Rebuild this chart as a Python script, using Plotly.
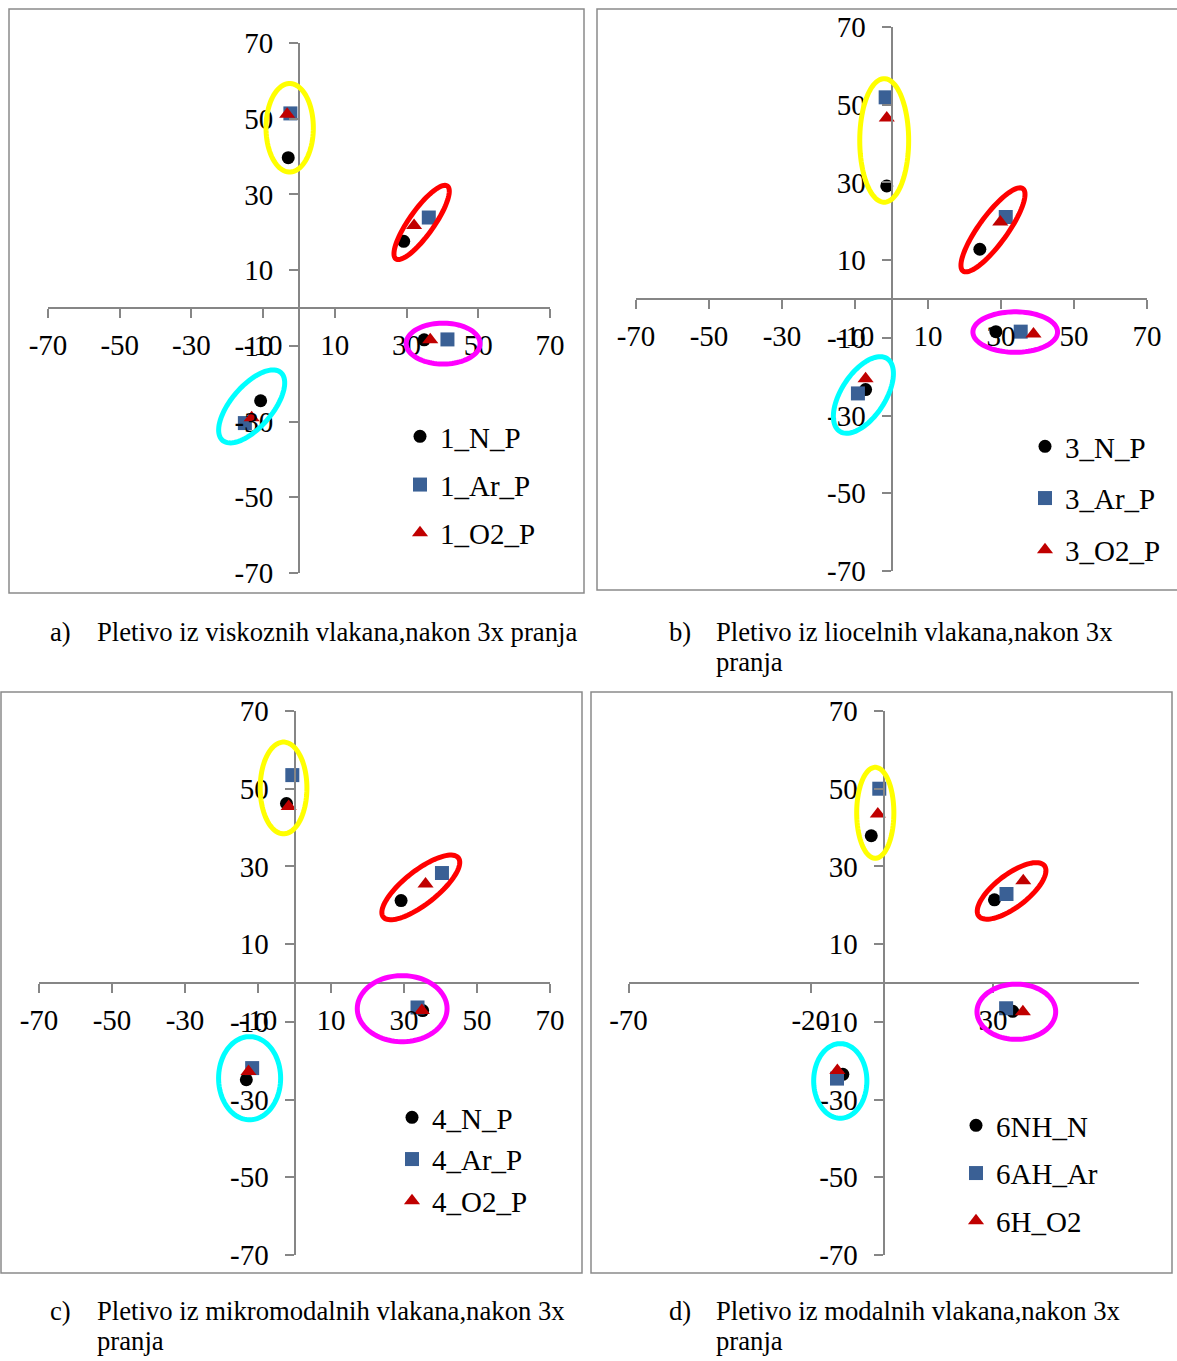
import numpy as np
import plotly.graph_objects as go

W, H = 1177, 1361

# ---- data ----
a_N_x = [-3.0, 29.2, 34.9, -10.7]
a_N_y = [39.7, 17.6, -8.4, -24.5]
a_Ar_x = [-2.4, 36.2, 41.4, -15.1]
a_Ar_y = [51.4, 23.9, -8.3, -30.4]
a_O2_x = [-3.3, 32.1, 36.6, -13.2]
a_O2_y = [51.2, 21.8, -8.4, -29.0]

b_N_x = [-1.3, 24.2, 28.6, -7.1]
b_N_y = [29.1, 12.8, -8.4, -23.3]
b_Ar_x = [-1.6, 31.3, 35.4, -9.2]
b_Ar_y = [51.9, 21.1, -8.4, -24.3]
b_O2_x = [-1.3, 29.8, 38.9, -7.1]
b_O2_y = [46.6, 19.8, -9.0, -20.5]

c_N_x = [-2.2, 29.2, 35.1, -13.2]
c_N_y = [46.2, 21.2, -7.1, -24.9]
c_Ar_x = [-0.6, 40.4, 33.7, -11.6]
c_Ar_y = [53.5, 28.3, -6.3, -21.9]
c_O2_x = [-1.6, 35.9, 34.9, -12.6]
c_O2_y = [45.4, 25.5, -7.1, -22.8]

d_N_x = [-3.4, 30.4, 35.4, -11.2]
d_N_y = [37.9, 21.4, -7.3, -23.5]
d_Ar_x = [-1.2, 33.7, 33.6, -12.8]
d_Ar_y = [50.0, 22.9, -6.5, -24.6]
d_O2_x = [-1.6, 38.3, 38.2, -12.7]
d_O2_y = [43.5, 26.3, -7.4, -22.5]

names_a = ["1_N_P", "1_Ar_P", "1_O2_P"]
names_b = ["3_N_P", "3_Ar_P", "3_O2_P"]
names_c = ["4_N_P", "4_Ar_P", "4_O2_P"]
names_d = ["6NH_N", "6AH_Ar", "6H_O2"]

ticks_20 = [-70, -50, -30, -10, 10, 30, 50, 70]
ticks_50 = [-70, -20, 30]

captions = [
    ("a)", ["Pletivo iz viskoznih vlakana,nakon 3x pranja"]),
    ("b)", ["Pletivo iz liocelnih vlakana,nakon 3x", "pranja"]),
    ("c)", ["Pletivo iz mikromodalnih vlakana,nakon 3x", "pranja"]),
    ("d)", ["Pletivo iz modalnih vlakana,nakon 3x", "pranja"]),
]


def fx(p):
    return p / W


def fy(p):
    return 1 - p / H


# pixel placement of each panel: x(-70), x(70), y(70), y(-70)
panels = [
    dict(xl=48, xr=550, yt=43, yb=573, xticks=ticks_20, frame=(9, 9, 584, 593),
         leg=(400, 411), gap=7.5, names=names_a,
         series=[(a_N_x, a_N_y), (a_Ar_x, a_Ar_y), (a_O2_x, a_O2_y)],
         cap=(48, 95, 632)),
    dict(xl=636, xr=1147, yt=27, yb=571, xticks=ticks_20, frame=(597, 9, 1190, 590),
         leg=(1025, 421), gap=11, names=names_b,
         series=[(b_N_x, b_N_y), (b_Ar_x, b_Ar_y), (b_O2_x, b_O2_y)],
         cap=(667, 714, 632)),
    dict(xl=39, xr=550, yt=711, yb=1255, xticks=ticks_20, frame=(1, 692, 582, 1273),
         leg=(392, 1092), gap=1, names=names_c,
         series=[(c_N_x, c_N_y), (c_Ar_x, c_Ar_y), (c_O2_x, c_O2_y)],
         cap=(48, 95, 1311)),
    dict(xl=628.5, xr=1138.8, yt=711, yb=1255, xticks=ticks_50, frame=(591, 692, 1172, 1273),
         leg=(956, 1100), gap=7, names=names_d,
         series=[(d_N_x, d_N_y), (d_Ar_x, d_Ar_y), (d_O2_x, d_O2_y)],
         cap=(667, 714, 1311)),
]

# ellipses: colour, cx, cy, semi-a, semi-b, angle (deg)
ellipses = [
    [("#FFFF00", -2.6, 47.6, 6.6, 11.7, 0), ("#FF0000", 34.2, 22.6, 12.0, 3.4, 53),
     ("#FF00FF", 40.2, -9.4, 10.3, 5.4, 0), ("#00FFFF", -13.2, -26.0, 12.1, 5.6, 47)],
    [("#FFFF00", -2.0, 40.8, 6.7, 15.9, 0), ("#FF0000", 27.8, 17.8, 13.4, 3.8, 52),
     ("#FF00FF", 33.9, -8.5, 11.6, 5.2, 0), ("#00FFFF", -7.7, -24.7, 11.4, 5.9, 54)],
    [("#FFFF00", -3.0, 50.2, 6.4, 11.8, 0), ("#FF0000", 34.6, 24.6, 12.8, 4.4, 36),
     ("#FF00FF", 29.5, -6.6, 12.3, 8.5, 0), ("#00FFFF", -12.3, -24.5, 8.5, 10.7, 0)],
    [("#FFFF00", -2.3, 43.8, 5.1, 11.7, 0), ("#FF0000", 35.1, 23.7, 11.1, 4.3, 35),
     ("#FF00FF", 36.4, -7.4, 10.8, 7.1, 0), ("#00FFFF", -11.9, -25.2, 7.3, 9.6, 0)],
]


def ellipse_path(cx, cy, a, b, ang, n=90):
    t = np.linspace(0, 2 * np.pi, n, endpoint=False)
    th = np.radians(ang)
    xs = cx + a * np.cos(t) * np.cos(th) - b * np.sin(t) * np.sin(th)
    ys = cy + a * np.cos(t) * np.sin(th) + b * np.sin(t) * np.cos(th)
    return "M " + " L ".join(f"{x:.3f},{y:.3f}" for x, y in zip(xs, ys)) + " Z"


SERIF = "Liberation Serif"
AXIS_GRAY = "#868686"
styles = [
    dict(symbol="circle", size=13, color="#000000"),
    dict(symbol="square", size=14, color="#3A6095"),
    dict(symbol="triangle-up", size=14, color="#C00000"),
]

fig = go.Figure()
shapes = []
annotations = []
layout = {}

for i, p in enumerate(panels):
    k = "" if i == 0 else str(i + 1)
    xdom = [fx(p["xl"]), fx(p["xr"])]
    ydom = [fy(p["yb"]), fy(p["yt"])]
    legname = "legend" + k

    for j, (xs, ys) in enumerate(p["series"]):
        st = styles[j]
        fig.add_trace(go.Scatter(
            x=xs, y=ys, mode="markers", name=p["names"][j],
            xaxis="x" + k, yaxis="y" + k,
            marker=dict(symbol=st["symbol"], size=st["size"], color=st["color"]),
            legend=legname, legendgroup=f"g{i}{j}",
        ))

    common = dict(
        range=[-70, 70], showgrid=False, zeroline=False, showline=True,
        linecolor=AXIS_GRAY, linewidth=2, ticks="outside", ticklen=9,
        tickwidth=2, tickcolor=AXIS_GRAY, tickmode="array",
        tickfont=dict(family=SERIF, size=29, color="#000000"),
        fixedrange=True, automargin=False,
    )
    # hyphen-minus labels like the original (plotly would use U+2212)
    layout["xaxis" + k] = dict(common, domain=xdom,
                               tickvals=p["xticks"], ticktext=[str(v) for v in p["xticks"]],
                               anchor="free", position=(ydom[0] + ydom[1]) / 2,
                               ticklabelstandoff=2)
    layout["yaxis" + k] = dict(common, domain=ydom,
                               tickvals=ticks_20, ticktext=[str(v) for v in ticks_20],
                               anchor="free", position=(xdom[0] + xdom[1]) / 2,
                               ticklabelstandoff=10)
    layout[legname] = dict(
        x=fx(p["leg"][0]), y=fy(p["leg"][1]), xanchor="left", yanchor="top",
        font=dict(family=SERIF, size=29, color="#000000"),
        bgcolor="rgba(0,0,0,0)", tracegroupgap=p["gap"], itemwidth=30,
    )

    x0, y0, x1, y1 = p["frame"]
    shapes.append(dict(type="rect", xref="paper", yref="paper",
                       x0=fx(x0), x1=fx(x1), y0=fy(y1), y1=fy(y0),
                       line=dict(color="#8A8A8A", width=1.5), layer="below"))

    for col, cx, cy, ea, eb, ang in ellipses[i]:
        shapes.append(dict(type="path", xref="x" + k, yref="y" + k,
                           path=ellipse_path(cx, cy, ea, eb, ang),
                           line=dict(color=col, width=5), layer="above"))

    lx, tx, ty = p["cap"]
    lab, lines = captions[i]
    cap_font = dict(family=SERIF, size=26.7, color="#000000")
    annotations.append(dict(text=lab, x=fx(lx), y=fy(ty), xref="paper", yref="paper",
                            xanchor="left", yanchor="middle", showarrow=False,
                            font=cap_font))
    for n, line in enumerate(lines):
        annotations.append(dict(text=line, x=fx(tx), y=fy(ty + 30 * n),
                                xref="paper", yref="paper",
                                xanchor="left", yanchor="middle", showarrow=False,
                                font=cap_font))

fig.update_layout(
    width=W, height=H,
    margin=dict(l=0, r=0, t=0, b=0, autoexpand=False),
    paper_bgcolor="white", plot_bgcolor="rgba(0,0,0,0)",
    showlegend=True,
    shapes=shapes, annotations=annotations,
    **layout,
)

# drop the default 8px page margin so the figure fills the window exactly
fig.write_html("out.html", config={"displayModeBar": False},
               post_script="document.body.style.margin='0px';")
